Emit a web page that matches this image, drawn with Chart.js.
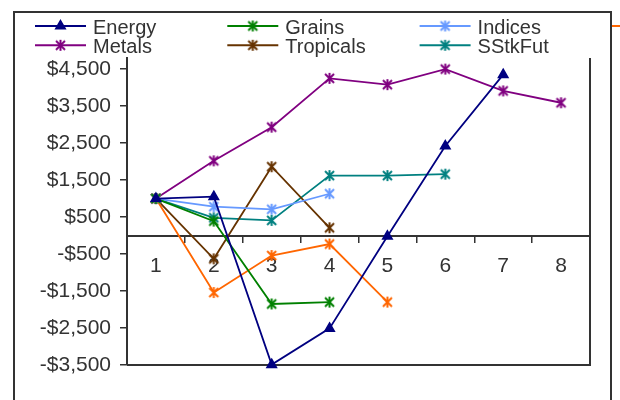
<!DOCTYPE html>
<html>
<head>
<meta charset="utf-8">
<script src="https://cdn.jsdelivr.net/npm/chart.js@4/dist/chart.umd.min.js"></script>
<style>
  html, body { margin: 0; padding: 0; background: #fff; }
  #wrap { width: 620px; height: 400px; position: relative; }
</style>
</head>
<body>
<div id="wrap"><canvas id="c" width="620" height="400"></canvas></div>
<script>
// Periods on the x axis
const categories = ['1', '2', '3', '4', '5', '6', '7', '8'];
// Labelled y ticks
const yTickValues = [-3500, -2500, -1500, -500, 500, 1500, 2500, 3500, 4500];

// Cumulative result per sector, starting from $1,000
const energy    = [1000, 1050, -3490, -2510, -20, 2420, 4350];
const grains    = [1000, 390, -1850, -1800];
const indices   = [1000, 780, 710, 1130];
const meats     = [1000, -1540, -540, -230, -1800];
const metals    = [1000, 2020, 2930, 4250, 4080, 4500, 3910, 3590];
const tropicals = [1000, -630, 1860, 210];
const sstkfut   = [1000, 480, 410, 1620, 1620, 1660];

const FONT = '"Liberation Sans", Arial, sans-serif';
const INK = '#333333';

// Asterisk marker: an X crossed by a vertical stroke
function asterisk(color) {
  const c = document.createElement('canvas');
  c.width = 13; c.height = 13;
  const g = c.getContext('2d');
  g.strokeStyle = color;
  g.lineWidth = 2;
  g.lineCap = 'butt';
  g.beginPath();
  g.moveTo(2, 2); g.lineTo(11, 11);
  g.moveTo(11, 2); g.lineTo(2, 11);
  g.moveTo(6.5, 1); g.lineTo(6.5, 12);
  g.stroke();
  return c;
}

function series(label, data, color, marker) {
  const tri = marker === 'triangle';
  return {
    label, data,
    borderColor: color,
    backgroundColor: color,
    borderWidth: 1.8,
    pointStyle: tri ? 'triangle' : asterisk(color),
    pointRadius: tri ? 5.5 : 6,
    pointHoverRadius: tri ? 5.5 : 6,
    pointBorderWidth: 1.5,
    pointBackgroundColor: color,
    pointBorderColor: color,
    tension: 0,
    fill: false,
    clip: false
  };
}

// Two-row legend with a line sample and marker per sector
const sectorLegend = {
  id: 'sectorLegend',
  afterDraw(chart) {
    const ctx = chart.ctx;
    ctx.save();
    chart.data.datasets.forEach((ds, i) => {
      const col = i % 4, row = Math.floor(i / 4);
      const x0 = 35 + col * 192.3;
      const y = 26 + row * 19.3;
      ctx.strokeStyle = ds.borderColor;
      ctx.lineWidth = 2;
      ctx.beginPath();
      ctx.moveTo(x0, y);
      ctx.lineTo(x0 + 51, y);
      ctx.stroke();
      ctx.fillStyle = ds.pointBackgroundColor;
      ctx.strokeStyle = ds.pointBorderColor;
      ctx.lineWidth = ds.pointBorderWidth;
      Chart.helpers.drawPoint(ctx, {
        pointStyle: ds.pointStyle,
        radius: ds.pointRadius,
        borderWidth: ds.pointBorderWidth,
        rotation: 0
      }, x0 + 25.5, y);
      ctx.fillStyle = INK;
      ctx.font = '20px ' + FONT;
      ctx.textAlign = 'left';
      ctx.textBaseline = 'middle';
      ctx.fillText(ds.label, x0 + 58, y + 2);
    });
    // outer chart frame
    ctx.strokeStyle = INK;
    ctx.lineWidth = 2;
    ctx.strokeRect(14, 12, 597, 420);
    ctx.restore();
  }
};

// Bottom and right edges of the plot area
const plotEdges = {
  id: 'plotEdges',
  beforeDatasetsDraw(chart) {
    const { ctx, chartArea: a } = chart;
    ctx.save();
    ctx.strokeStyle = INK;
    ctx.lineWidth = 2;
    ctx.beginPath();
    ctx.moveTo(a.left, a.bottom);
    ctx.lineTo(a.right, a.bottom);
    ctx.lineTo(a.right, a.top);
    ctx.stroke();
    ctx.restore();
  }
};

new Chart(document.getElementById('c'), {
  type: 'line',
  data: {
    labels: categories,
    datasets: [
      series('Energy', energy, '#000080', 'triangle'),
      series('Grains', grains, '#008000', 'asterisk'),
      series('Indices', indices, '#6699FF', 'asterisk'),
      series('Meats', meats, '#FF6600', 'asterisk'),
      series('Metals', metals, '#800080', 'asterisk'),
      series('Tropicals', tropicals, '#663300', 'asterisk'),
      series('SStkFut', sstkfut, '#008080', 'asterisk')
    ]
  },
  options: {
    responsive: false,
    animation: false,
    devicePixelRatio: 1,
    layout: { padding: { top: 58, right: 30, bottom: 35, left: 0 } },
    plugins: {
      legend: { display: false },
      tooltip: { enabled: false },
      title: { display: false }
    },
    scales: {
      x: {
        type: 'category',
        offset: true,
        position: { y: 0 },
        border: { display: true, color: INK, width: 2 },
        grid: { offset: true, drawOnChartArea: false, drawTicks: true, tickLength: 6, color: INK, lineWidth: 1.5 },
        ticks: { padding: 12, color: INK, font: { family: FONT, size: 21 }, maxRotation: 0, autoSkip: false }
      },
      y: {
        min: -3500,
        max: 4800,
        afterBuildTicks: s => { s.ticks = yTickValues.map(v => ({ value: v })); },
        afterFit: s => { s.width = 127; },
        border: { display: true, color: INK, width: 2 },
        grid: { drawOnChartArea: false, drawTicks: true, tickLength: 7, color: INK, lineWidth: 1.5 },
        ticks: {
          padding: 9,
          color: INK,
          font: { family: FONT, size: 21 },
          callback: v => (v < 0 ? '-$' : '$') + Math.abs(v).toLocaleString('en-US')
        }
      }
    }
  },
  plugins: [plotEdges, sectorLegend]
});
</script>
</body>
</html>
